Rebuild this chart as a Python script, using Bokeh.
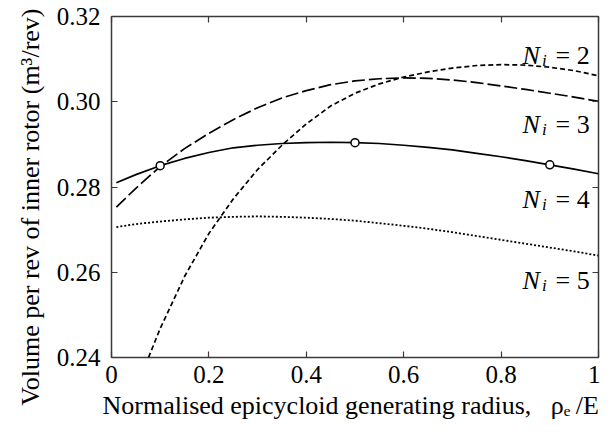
from bokeh.plotting import figure
from bokeh.models import Range1d, LinearAxis, FixedTicker, Label, Title
from bokeh.embed import file_html
from bokeh.resources import INLINE

# ---------------- data ----------------
x_common = [0.01, 0.05, 0.10, 0.15, 0.20, 0.25, 0.30, 0.35, 0.40, 0.45, 0.50,
            0.55, 0.60, 0.65, 0.70, 0.75, 0.80, 0.85, 0.90, 0.95, 1.00]

ni3_y = [0.2753, 0.2797, 0.2848, 0.2890, 0.2926, 0.2958, 0.2986, 0.3009, 0.3026, 0.3040, 0.3049,
         0.3054, 0.3056, 0.3055, 0.3051, 0.3045, 0.3037, 0.3029, 0.3020, 0.3011, 0.3001]

ni4_y = [0.2810, 0.2829, 0.2850, 0.2867, 0.2881, 0.2892, 0.2898, 0.2902, 0.2904, 0.2905, 0.2904,
         0.2902, 0.2898, 0.2893, 0.2887, 0.2879, 0.2871, 0.2862, 0.2852, 0.2842, 0.2831]

ni5_y = [0.2706, 0.2713, 0.2719, 0.2724, 0.2728, 0.2730, 0.2731, 0.2730, 0.2728, 0.2725, 0.2721,
         0.2715, 0.2709, 0.2702, 0.2694, 0.2685, 0.2676, 0.2667, 0.2658, 0.2649, 0.2639]

ni2_x = [0.076, 0.10, 0.15, 0.20, 0.25, 0.30, 0.35, 0.40, 0.45, 0.50,
         0.55, 0.60, 0.65, 0.70, 0.75, 0.80, 0.85, 0.90, 0.95, 1.00]
ni2_y = [0.2400, 0.2468, 0.2590, 0.2691, 0.2772, 0.2841, 0.2898, 0.2948, 0.2990, 0.3020,
         0.3042, 0.3058, 0.3070, 0.3079, 0.3085, 0.3087, 0.3086, 0.3081, 0.3073, 0.3061]

marker_x = [0.1, 0.5, 0.9]
marker_y = [0.2850, 0.2904, 0.2852]

x_ticks = [0.0, 0.2, 0.4, 0.6, 0.8, 1.0]
x_tick_labels = ["0", "0.2", "0.4", "0.6", "0.8", "1"]
y_ticks = [0.24, 0.26, 0.28, 0.30, 0.32]
y_tick_labels = ["0.24", "0.26", "0.28", "0.30", "0.32"]

series_numbers = ["2", "3", "4", "5"]

x_title = "Normalised epicycloid generating radius,\u00a0\u00a0\u00a0\u03c1\u2091\u2009/E"
y_title = "Volume per rev of inner rotor (m\u00b3/rev)"

FONT = "'Liberation Serif'"
FRAME = "#3a3a3a"

# ---------------- figure ----------------
p = figure(width=600, height=432,
           x_range=Range1d(0, 1), y_range=Range1d(0.24, 0.32),
           output_backend="svg", toolbar_location=None,
           min_border_left=111, min_border_right=2,
           min_border_top=16, min_border_bottom=75)
p.grid.visible = False
p.background_fill_color = "white"
p.border_fill_color = "white"
p.outline_line_color = FRAME
p.outline_line_width = 1.5

xa = p.xaxis[0]
ya = p.yaxis[0]
xa.ticker = FixedTicker(ticks=x_ticks)
ya.ticker = FixedTicker(ticks=y_ticks)
xa.major_label_overrides = dict(zip(x_ticks, x_tick_labels))
ya.major_label_overrides = dict(zip(y_ticks, y_tick_labels))
for ax in (xa, ya):
    ax.axis_line_color = None
    ax.major_tick_in = 6
    ax.major_tick_out = 0
    ax.major_tick_line_color = FRAME
    ax.major_tick_line_width = 1.2
    ax.minor_tick_line_color = None
    ax.major_label_text_font = FONT
    ax.major_label_text_font_size = "25px"
    ax.major_label_text_color = "black"
xa.major_label_standoff = 8
ya.major_label_standoff = 11

# axis titles as side titles so they can be placed like the reference
p.add_layout(Title(text=y_title, align="right", offset=-8, standoff=17,
                   text_font=FONT, text_font_size="26px", text_font_style="normal",
                   text_color="black"), "left")
p.add_layout(Title(text=x_title, align="left", offset=-9, standoff=6,
                   text_font=FONT, text_font_size="26px", text_font_style="normal",
                   text_color="black"), "below")

for side, tk in (("above", x_ticks), ("right", y_ticks)):
    ax = LinearAxis(ticker=FixedTicker(ticks=tk))
    ax.major_label_overrides = {t: "" for t in tk}
    ax.axis_line_color = None
    ax.major_tick_in = 6
    ax.major_tick_out = 0
    ax.major_tick_line_color = FRAME
    ax.major_tick_line_width = 1.2
    ax.minor_tick_line_color = None
    ax.major_label_standoff = 0
    p.add_layout(ax, side)

# ---------------- curves ----------------
p.line(ni2_x, ni2_y, line_color="black", line_width=1.7, line_dash="5 3")
p.line(x_common, ni3_y, line_color="black", line_width=1.7, line_dash="13 4")
p.line(x_common, ni4_y, line_color="black", line_width=1.7)
p.line(x_common, ni5_y, line_color="black", line_width=1.8, line_dash="2 2")
p.scatter(marker_x, marker_y, size=8, fill_color="white", line_color="black", line_width=1.5)

# ---------------- series labels  N_i = k ----------------
label_y = [0.3108, 0.2946, 0.2770, 0.2581]
for k, yb in zip(series_numbers, label_y):
    p.add_layout(Label(x=0.844, y=yb, text="N", text_font=FONT, text_font_style="italic",
                       text_font_size="26px", text_baseline="alphabetic", text_color="black"))
    p.add_layout(Label(x=0.884, y=yb - 0.0012, text="i", text_font=FONT, text_font_style="italic",
                       text_font_size="17px", text_baseline="alphabetic", text_color="black"))
    p.add_layout(Label(x=0.9117, y=yb, text="= " + k, text_font=FONT,
                       text_font_size="26px", text_baseline="alphabetic", text_color="black"))

open("out.html", "w").write(file_html(p, INLINE))
